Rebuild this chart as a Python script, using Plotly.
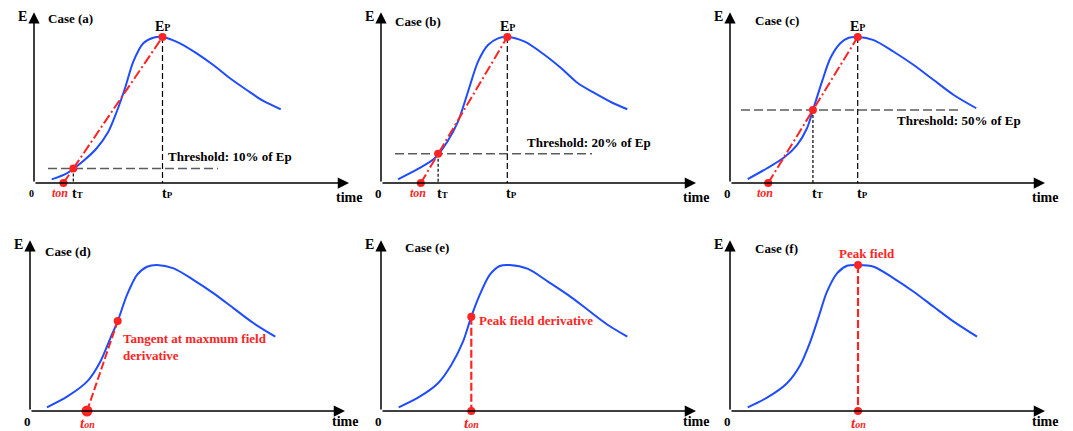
import numpy as np
import plotly.graph_objects as go

FONT = "Liberation Serif"
BLUE = "#1f4cff"
RED = "#ff2424"
GREY = "#5c5c5c"

# ---- field waveforms: time in arbitrary units, E normalised so that the peak Ep = 1 ----
t_a = [1.77, 3.27, 4.93, 6.27, 7.43, 8.27, 9.10, 9.93, 10.93, 11.93, 12.85, 14.60, 16.27, 17.93, 19.60, 21.27, 22.93, 24.67]
E_a = [0.025, 0.066, 0.151, 0.238, 0.351, 0.488, 0.649, 0.831, 0.957, 0.995, 1.000, 0.957, 0.888, 0.808, 0.717, 0.637, 0.562, 0.505]

t_b = [1.70, 3.70, 5.37, 6.63, 7.70, 8.70, 9.70, 10.70, 11.70, 12.63, 14.37, 16.37, 18.03, 19.70, 21.37, 23.03, 24.63]
E_b = [0.025, 0.096, 0.169, 0.283, 0.420, 0.625, 0.831, 0.945, 0.991, 1.000, 0.968, 0.877, 0.786, 0.683, 0.615, 0.553, 0.505]

t_c = [1.77, 3.70, 5.37, 6.70, 7.70, 8.37, 9.20, 10.03, 11.03, 11.87, 12.77, 14.37, 16.37, 18.37, 20.37, 22.37, 24.63]
E_c = [0.027, 0.101, 0.173, 0.260, 0.375, 0.516, 0.694, 0.854, 0.957, 0.995, 1.000, 0.979, 0.899, 0.808, 0.705, 0.603, 0.512]

t_d = [1.70, 3.70, 5.70, 7.03, 8.03, 8.77, 9.70, 10.70, 11.70, 12.70, 14.37, 16.37, 18.37, 20.37, 22.37, 24.53]
E_d = [0.025, 0.098, 0.201, 0.338, 0.498, 0.616, 0.795, 0.932, 0.988, 1.000, 0.977, 0.897, 0.806, 0.703, 0.601, 0.509]

t_e = [1.77, 3.70, 5.70, 7.03, 8.20, 9.03, 9.87, 10.87, 11.87, 12.87, 14.70, 16.70, 18.70, 20.70, 22.70, 24.63]
E_e = [0.025, 0.091, 0.190, 0.315, 0.475, 0.646, 0.795, 0.932, 0.993, 1.000, 0.973, 0.886, 0.795, 0.692, 0.589, 0.509]

t_f = [1.77, 3.70, 5.70, 7.03, 8.03, 8.87, 9.70, 10.70, 11.70, 12.80, 14.37, 16.37, 18.37, 20.37, 22.37, 24.70]
E_f = [0.025, 0.091, 0.190, 0.315, 0.475, 0.646, 0.817, 0.943, 0.995, 1.000, 0.988, 0.909, 0.817, 0.714, 0.612, 0.509]

# ---- onset definitions ----
threshold_frac = {"a": 0.10, "b": 0.20, "c": 0.50}
threshold_span = {"a": [1.4, 18.4], "b": [1.4, 21.1], "c": [1.1, 23.2]}
tangent_point_d = [8.77, 0.616]     # point of maximum field derivative
tangent_onset_d = 5.7               # where that tangent meets E = 0
peak_deriv_time_e = 9.03            # time of the peak field derivative

case_labels = ["Case (a)", "Case (b)", "Case (c)", "Case (d)", "Case (e)", "Case (f)"]

# ---- page geometry ----
W, H = 1073, 431
PX_T, PX_E = 10.0, 146.0            # pixels per time unit / per Ep
XR = (-2.0, 33.0)
YR = (-0.1, 1.25)
T_TIP, E_TOP = 31.5, 1.17           # axis arrow tips

# origin pixel, case-label offsets (dx right of axis, dy below arrow tip), "time" offset
panels = [
    dict(ox=34,  oy=183, cdx=12, cdy=6,  zero=10, tdy=14),
    dict(ox=381, oy=183, cdx=12, cdy=9,  zero=13, tdy=14),
    dict(ox=730, oy=183, cdx=23, cdy=8,  zero=13, tdy=14),
    dict(ox=30,  oy=411, cdx=13, cdy=11, zero=13, tdy=10),
    dict(ox=381, oy=411, cdx=22, cdy=7,  zero=13, tdy=10),
    dict(ox=730, oy=411, cdx=23, cdy=8,  zero=13, tdy=10),
]
curves = [(t_a, E_a), (t_b, E_b), (t_c, E_c), (t_d, E_d), (t_e, E_e), (t_f, E_f)]

fig = go.Figure()
annotations = []
layout_axes = {}


def bold(txt, size, color="black", **kw):
    return dict(text=f"<b>{txt}</b>", showarrow=False,
                font=dict(family=FONT, size=size, color=color), **kw)


def line(fig, xs, ys, ax, color, width, dash):
    fig.add_trace(go.Scatter(x=xs, y=ys, mode="lines", line=dict(color=color, width=width, dash=dash),
                             xaxis=ax[0], yaxis=ax[1], hoverinfo="skip", showlegend=False))


def dots(fig, xs, ys, ax, size=8):
    fig.add_trace(go.Scatter(x=xs, y=ys, mode="markers", marker=dict(color=RED, size=size),
                             xaxis=ax[0], yaxis=ax[1], hoverinfo="skip", showlegend=False,
                             cliponaxis=False))


for i, p in enumerate(panels):
    k = "" if i == 0 else str(i + 1)
    xa, ya = "x" + k, "y" + k
    ox, oy = p["ox"], p["oy"]
    layout_axes["xaxis" + k] = dict(domain=[(ox + XR[0] * PX_T) / W, (ox + XR[1] * PX_T) / W],
                                    range=list(XR), visible=False, anchor=ya, fixedrange=True)
    layout_axes["yaxis" + k] = dict(domain=[1 - (oy - YR[0] * PX_E) / H, 1 - (oy - YR[1] * PX_E) / H],
                                    range=list(YR), visible=False, anchor=xa, fixedrange=True)
    ref = dict(xref=xa, yref=ya)

    # axes with arrow heads
    for (x, y) in [(T_TIP, 0), (0, E_TOP)]:
        annotations.append(dict(x=x, y=y, ax=0, ay=0, axref=xa, ayref=ya, text="", showarrow=True,
                                arrowhead=2, arrowsize=1.5, arrowwidth=1.5, arrowcolor="black",
                                standoff=0, startstandoff=0, **ref))
    annotations.append(bold("E", 14, x=0, y=E_TOP, xshift=-12, yshift=-4, **ref))
    annotations.append(bold(case_labels[i], 13, x=0, y=E_TOP, xanchor="left", xshift=p["cdx"],
                            yshift=-p["cdy"], **ref))
    annotations.append(bold("0", p["zero"], x=0, y=0, xshift=-3, yshift=-10, **ref))
    annotations.append(bold("time", 14, x=T_TIP, y=0, yshift=-p["tdy"], **ref))

    t, E = curves[i]
    fig.add_trace(go.Scatter(x=t, y=E, mode="lines",
                             line=dict(color=BLUE, width=2, shape="spline", smoothing=0.8),
                             xaxis=xa, yaxis=ya, hoverinfo="skip", showlegend=False))

    i_pk = int(np.argmax(E))
    tP, Ep = t[i_pk], E[i_pk]

    if i < 3:
        key = "abc"[i]
        thr = threshold_frac[key] * Ep
        # first crossing of the threshold on the rising edge
        rise_t, rise_E = np.array(t[:i_pk + 1]), np.array(E[:i_pk + 1])
        tT = float(np.interp(thr, rise_E, rise_t))
        # straight line through the threshold point and the peak, extended to E = 0
        ton = tT - thr * (tP - tT) / (Ep - thr)

        line(fig, threshold_span[key], [thr, thr], (xa, ya), GREY, 1.5, "9px,4px")
        line(fig, [tT, tT], [thr, 0], (xa, ya), "black", 1.2, "3px,2px")
        line(fig, [tP, tP], [Ep, 0], (xa, ya), "black", 1.2, "6px,3px")
        line(fig, [ton, tP], [0, Ep], (xa, ya), RED, 2, "10px,3px,2px,3px")
        dots(fig, [ton, tT, tP], [0, thr, Ep], (xa, ya), 8)

        annotations.append(bold("E<span style='font-size:10px'>P</span>", 14, x=tP, y=Ep, yshift=10, **ref))
        annotations.append(bold("t<span style='font-size:9px'>T</span>", 14, x=tT, y=0, xanchor="left",
                                xshift=-3, yshift=-10, **ref))
        annotations.append(bold("t<span style='font-size:9px'>P</span>", 14, x=tP, y=0, xanchor="left",
                                xshift=-3, yshift=-10, **ref))
        annotations.append(bold("<i>ton</i>", 12, RED, x=ton, y=0, xshift=-3, yshift=-10, **ref))
        pct = int(round(threshold_frac[key] * 100))
        dy = {"a": 12, "b": 11, "c": -11}[key]
        x_txt = {"a": 13.2, "b": 14.4, "c": 16.5}[key]
        annotations.append(bold(f"Threshold: {pct}% of Ep", 13, x=x_txt, y=thr, xanchor="left",
                                yshift=dy, **ref))
    else:
        on_label = "<i>t<span style='font-size:10px'>on</span></i>"
        if i == 3:
            tx, ty = tangent_point_d
            line(fig, [tangent_onset_d, tx], [0, ty], (xa, ya), RED, 2, "8px,3px")
            dots(fig, [tx], [ty], (xa, ya), 8)
            dots(fig, [tangent_onset_d], [0], (xa, ya), 11)
            annotations.append(bold("Tangent at maxmum field<br>derivative", 13, RED, x=tx, y=ty,
                                    xanchor="left", yanchor="top", align="left", xshift=3, yshift=-8, **ref))
            annotations.append(bold(on_label, 15, RED, x=tangent_onset_d, y=0, yshift=-12, **ref))
        elif i == 4:
            td = peak_deriv_time_e
            Ed = float(np.interp(td, t[:i_pk + 1], E[:i_pk + 1]))
            line(fig, [td, td], [Ed, 0], (xa, ya), RED, 2.2, "8px,3px")
            dots(fig, [td, td], [Ed, 0], (xa, ya), 8)
            annotations.append(bold("Peak field derivative", 13, RED, x=td, y=Ed, xanchor="left",
                                    xshift=6, yshift=-4, **ref))
            annotations.append(bold(on_label, 15, RED, x=td, y=0, yshift=-12, **ref))
        else:
            line(fig, [tP, tP], [Ep, 0], (xa, ya), RED, 2.2, "8px,3px")
            dots(fig, [tP, tP], [Ep, 0], (xa, ya), 8)
            annotations.append(bold("Peak field", 13, RED, x=tP, y=Ep, xshift=9, yshift=12, **ref))
            annotations.append(bold(on_label, 15, RED, x=tP, y=0, yshift=-12, **ref))

fig.update_layout(width=W, height=H, margin=dict(l=0, r=0, t=0, b=0),
                  paper_bgcolor="white", plot_bgcolor="rgba(0,0,0,0)",
                  annotations=annotations, **layout_axes)

fig.write_html("out.html", config={"displayModeBar": False})
